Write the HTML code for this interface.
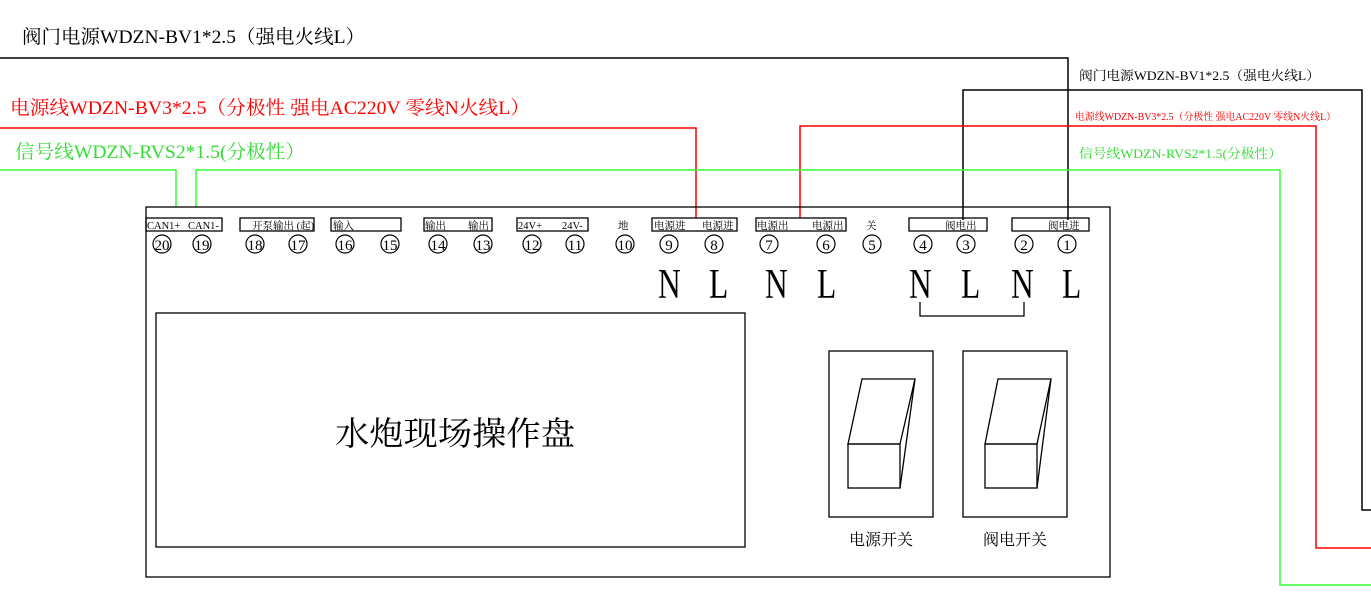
<!DOCTYPE html>
<html><head><meta charset="utf-8"><style>
html,body{margin:0;padding:0;background:#fff;}
svg{display:block;}
text{font-family:"Liberation Serif","Noto Serif CJK SC","Noto Sans CJK SC",serif;}
</style></head><body>
<svg width="1371" height="598" viewBox="0 0 1371 598" xmlns="http://www.w3.org/2000/svg">
<g fill="none" stroke-width="1.5">
<polyline stroke="#000" points="0,58 1068,58 1068,220"/>
<polyline stroke="#000" points="963,220 963,90 1362,90 1362,510 1371,510"/>
<polyline stroke="#f00" points="0,128 696,128 696,218"/>
<polyline stroke="#f00" points="800,218 800,126 1316,126 1316,548 1371,548"/>
<polyline stroke="#3f3" points="0,170 176,170 176,207"/>
<polyline stroke="#3f3" points="196,207 196,170 1280,170 1280,585 1371,585"/>
</g>
<g fill="none" stroke="#000" stroke-width="1.3">
<rect x="146" y="207" width="964" height="370"/>
<rect x="156" y="313" width="589" height="234"/>
<rect x="146" y="218" width="76" height="13"/>
<rect x="240" y="218" width="74" height="13"/>
<rect x="331" y="218" width="70" height="13"/>
<rect x="424" y="218" width="68" height="13"/>
<rect x="517" y="218" width="71" height="13"/>
<rect x="652" y="218" width="85" height="13"/>
<rect x="756" y="218" width="90" height="13"/>
<rect x="909" y="218" width="78" height="13"/>
<rect x="1012" y="218" width="77" height="13"/>
<polyline points="920,302 920,316 1024,316 1024,302"/>
<rect x="829" y="351" width="104" height="166"/>
<polygon points="862,379 915,379 900,444 848,444"/>
<rect x="848" y="444" width="52" height="44"/>
<polyline points="915,379 900,488"/>
<rect x="963" y="351" width="104" height="166"/>
<polygon points="998,379 1051,379 1037,444 985,444"/>
<rect x="985" y="444" width="52" height="44"/>
<polyline points="1051,379 1037,488"/>
</g>
<g fill="none" stroke="#000" stroke-width="1.2">
<circle cx="162" cy="244" r="9"/><circle cx="202" cy="244" r="9"/>
<circle cx="255" cy="244" r="9"/><circle cx="298" cy="244" r="9"/>
<circle cx="345" cy="244" r="9"/><circle cx="390" cy="244" r="9"/>
<circle cx="438" cy="244" r="9"/><circle cx="483" cy="244" r="9"/>
<circle cx="532" cy="244" r="9"/><circle cx="575" cy="244" r="9"/>
<circle cx="625" cy="244" r="9"/><circle cx="669" cy="244" r="9"/>
<circle cx="714" cy="244" r="9"/><circle cx="769" cy="244" r="9"/>
<circle cx="826" cy="244" r="9"/><circle cx="872" cy="244" r="9"/>
<circle cx="923" cy="244" r="9"/><circle cx="966" cy="244" r="9"/>
<circle cx="1024" cy="244" r="9"/><circle cx="1067" cy="244" r="9"/>
</g>
<g font-size="15" text-anchor="middle" fill="#000">
<text x="162" y="250">20</text><text x="202" y="250">19</text>
<text x="255" y="250">18</text><text x="298" y="250">17</text>
<text x="345" y="250">16</text><text x="390" y="250">15</text>
<text x="438" y="250">14</text><text x="483" y="250">13</text>
<text x="532" y="250">12</text><text x="575" y="250">11</text>
<text x="625" y="250">10</text><text x="669" y="250">9</text>
<text x="714" y="250">8</text><text x="769" y="250">7</text>
<text x="826" y="250">6</text><text x="872" y="250">5</text>
<text x="923" y="250">4</text><text x="966" y="250">3</text>
<text x="1024" y="250">2</text><text x="1067" y="250">1</text>
</g>
<g font-size="10.5" fill="#000">
<text x="147" y="229">CAN1+</text><text x="188" y="229">CAN1-</text>
<text x="252" y="229">开泵输出 (起)</text>
<text x="333" y="229">输入</text>
<text x="425" y="229">输出</text><text x="468" y="229">输出</text>
<text x="518" y="229">24V+</text><text x="562" y="229">24V-</text>
<text x="618" y="229">地</text>
<text x="654" y="229">电源进</text><text x="702" y="229">电源进</text>
<text x="757" y="229">电源出</text><text x="812" y="229">电源出</text>
<text x="866" y="229">关</text>
<text x="945" y="229">阀电出</text>
<text x="1048" y="229">阀电进</text>
</g>
<g font-size="42" fill="#000">
<text transform="translate(658,298) scale(0.75,1)">N</text>
<text transform="translate(709,298) scale(0.75,1)">L</text>
<text transform="translate(765,298) scale(0.75,1)">N</text>
<text transform="translate(817,298) scale(0.75,1)">L</text>
<text transform="translate(909,298) scale(0.75,1)">N</text>
<text transform="translate(961,298) scale(0.75,1)">L</text>
<text transform="translate(1011,298) scale(0.75,1)">N</text>
<text transform="translate(1062,298) scale(0.75,1)">L</text>
</g>
<text x="335" y="445" font-size="33" fill="#000" textLength="240" lengthAdjust="spacingAndGlyphs">水炮现场操作盘</text>
<text x="881" y="545" font-size="16" text-anchor="middle" fill="#000">电源开关</text>
<text x="1015" y="545" font-size="16" text-anchor="middle" fill="#000">阀电开关</text>
<text x="22" y="43" font-size="19" fill="#000" textLength="343" lengthAdjust="spacingAndGlyphs">阀门电源WDZN-BV1*2.5（强电火线L）</text>
<text x="10" y="114" font-size="19" fill="#f00" textLength="520" lengthAdjust="spacingAndGlyphs">电源线WDZN-BV3*2.5（分极性 强电AC220V 零线N火线L）</text>
<text x="15" y="158" font-size="19" fill="#3d3" textLength="290" lengthAdjust="spacingAndGlyphs">信号线WDZN-RVS2*1.5(分极性）</text>
<text x="1079" y="80" font-size="13" fill="#000" textLength="241" lengthAdjust="spacingAndGlyphs">阀门电源WDZN-BV1*2.5（强电火线L）</text>
<text x="1075" y="120" font-size="10" fill="#f00" textLength="261" lengthAdjust="spacingAndGlyphs">电源线WDZN-BV3*2.5（分极性 强电AC220V 零线N火线L）</text>
<text x="1079" y="158" font-size="13" fill="#3d3" textLength="203" lengthAdjust="spacingAndGlyphs">信号线WDZN-RVS2*1.5(分极性）</text>
</svg>
</body></html>
